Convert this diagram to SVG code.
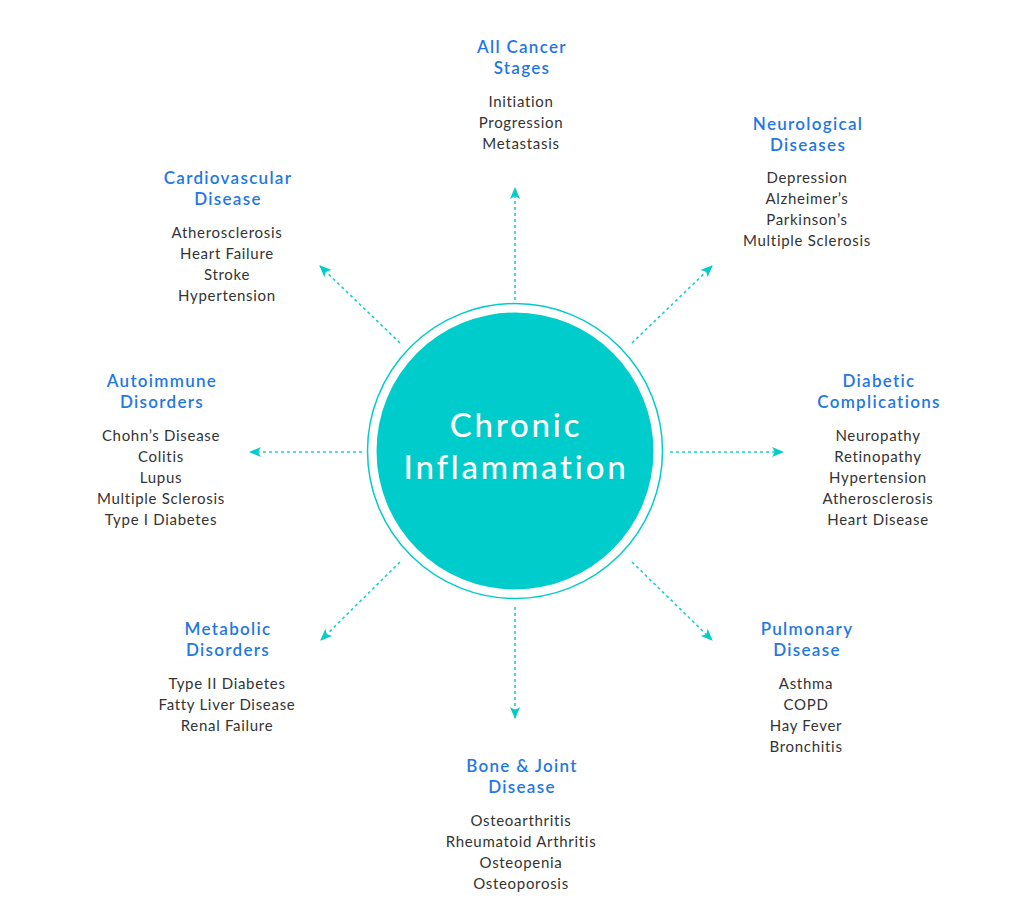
<svg xmlns="http://www.w3.org/2000/svg" width="1030" height="922" viewBox="0 0 1030 922">
<defs>
<style>
.t{font-family:Lato,"Noto Sans",sans-serif;font-size:17px;font-weight:600;letter-spacing:1.3px;fill:#1f78e2;text-anchor:middle}
.i{font-family:Lato,"Noto Sans",sans-serif;font-size:15px;letter-spacing:0.7px;fill:#333;text-anchor:middle}
.c{font-family:Lato,"Noto Sans",sans-serif;font-size:33px;font-weight:500;letter-spacing:2.8px;fill:#fff;text-anchor:middle}
.a{stroke:#1ecece;stroke-width:1.6;stroke-dasharray:3 3;fill:none}
</style>
<marker id="ah" viewBox="0 0 12 10" refX="11" refY="5" markerWidth="12" markerHeight="10" markerUnits="userSpaceOnUse" orient="auto">
<path d="M0,0 L12,5 L0,10 L3,5 z" fill="#00cccc"/>
</marker>
</defs>
<rect width="1030" height="922" fill="#fff"/>
<g id="connectors">
<line class="a" x1="515" y1="300" x2="515" y2="188" marker-end="url(#ah)"/>
<line class="a" x1="515" y1="607" x2="515" y2="718" marker-end="url(#ah)"/>
<line class="a" x1="362" y1="452" x2="250" y2="452" marker-end="url(#ah)"/>
<line class="a" x1="670" y1="452" x2="783" y2="452" marker-end="url(#ah)"/>
<line class="a" x1="632" y1="343" x2="712" y2="266" marker-end="url(#ah)"/>
<line class="a" x1="400" y1="343" x2="320" y2="266" marker-end="url(#ah)"/>
<line class="a" x1="400" y1="562" x2="321" y2="640" marker-end="url(#ah)"/>
<line class="a" x1="632" y1="562" x2="712" y2="640" marker-end="url(#ah)"/>
</g>
<g id="center">
<circle cx="515" cy="451" r="147.5" fill="none" stroke="#00cccc" stroke-width="1.5"/>
<circle cx="515" cy="451" r="138.5" fill="#00cccc"/>
<text class="c" x="516" y="437">Chronic</text>
<text class="c" x="516" y="479">Inflammation</text>
</g>
<g id="cancer">
<text class="t" x="522" y="53">All Cancer</text>
<text class="t" x="522" y="74">Stages</text>
<text class="i" x="521" y="107">Initiation</text>
<text class="i" x="521" y="128">Progression</text>
<text class="i" x="521" y="149">Metastasis</text>
</g>
<g id="neuro">
<text class="t" x="808" y="130">Neurological</text>
<text class="t" x="808" y="151">Diseases</text>
<text class="i" x="807" y="183">Depression</text>
<text class="i" x="807" y="204">Alzheimer’s</text>
<text class="i" x="807" y="225">Parkinson’s</text>
<text class="i" x="807" y="246">Multiple Sclerosis</text>
</g>
<g id="cardio">
<text class="t" x="228" y="184">Cardiovascular</text>
<text class="t" x="228" y="205">Disease</text>
<text class="i" x="227" y="238">Atherosclerosis</text>
<text class="i" x="227" y="259">Heart Failure</text>
<text class="i" x="227" y="280">Stroke</text>
<text class="i" x="227" y="301">Hypertension</text>
</g>
<g id="autoimmune">
<text class="t" x="162" y="387">Autoimmune</text>
<text class="t" x="162" y="408">Disorders</text>
<text class="i" x="161" y="441">Chohn’s Disease</text>
<text class="i" x="161" y="462">Colitis</text>
<text class="i" x="161" y="483">Lupus</text>
<text class="i" x="161" y="504">Multiple Sclerosis</text>
<text class="i" x="161" y="525">Type I Diabetes</text>
</g>
<g id="diabetic">
<text class="t" x="879" y="387">Diabetic</text>
<text class="t" x="879" y="408">Complications</text>
<text class="i" x="878" y="441">Neuropathy</text>
<text class="i" x="878" y="462">Retinopathy</text>
<text class="i" x="878" y="483">Hypertension</text>
<text class="i" x="878" y="504">Atherosclerosis</text>
<text class="i" x="878" y="525">Heart Disease</text>
</g>
<g id="metabolic">
<text class="t" x="228" y="635">Metabolic</text>
<text class="t" x="228" y="656">Disorders</text>
<text class="i" x="227" y="689">Type II Diabetes</text>
<text class="i" x="227" y="710">Fatty Liver Disease</text>
<text class="i" x="227" y="731">Renal Failure</text>
</g>
<g id="pulmonary">
<text class="t" x="807" y="635">Pulmonary</text>
<text class="t" x="807" y="656">Disease</text>
<text class="i" x="806" y="689">Asthma</text>
<text class="i" x="806" y="710">COPD</text>
<text class="i" x="806" y="731">Hay Fever</text>
<text class="i" x="806" y="752">Bronchitis</text>
</g>
<g id="bone">
<text class="t" x="522" y="772">Bone &amp; Joint</text>
<text class="t" x="522" y="793">Disease</text>
<text class="i" x="521" y="826">Osteoarthritis</text>
<text class="i" x="521" y="847">Rheumatoid Arthritis</text>
<text class="i" x="521" y="868">Osteopenia</text>
<text class="i" x="521" y="889">Osteoporosis</text>
</g>
</svg>
